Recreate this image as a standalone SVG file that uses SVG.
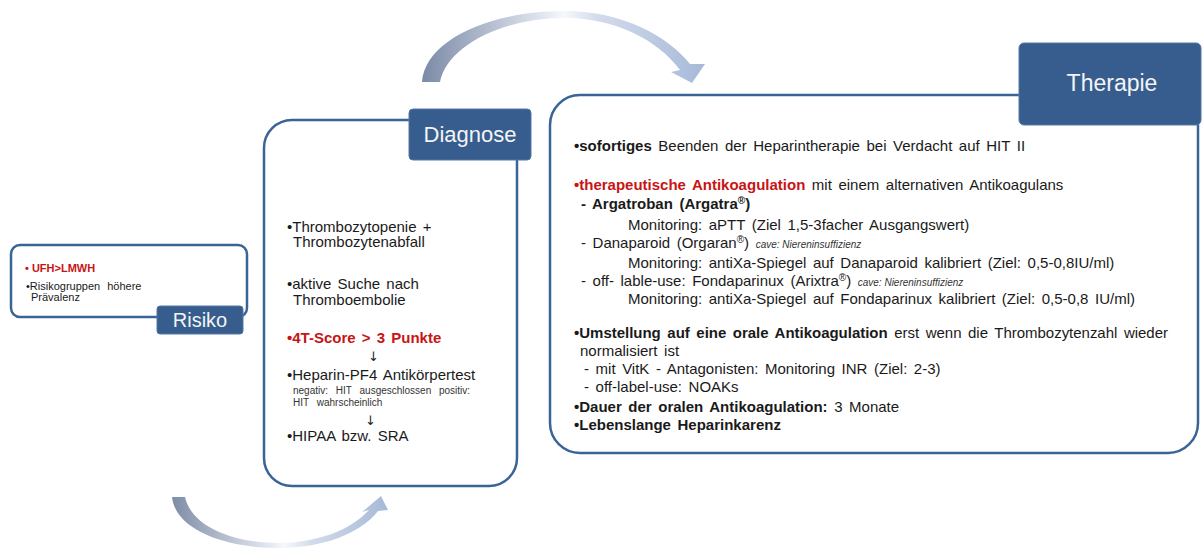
<svg xmlns="http://www.w3.org/2000/svg" width="1204" height="550" viewBox="0 0 1204 550">
<defs>
<style>
.box{fill:#fff;stroke:#3a6497;stroke-width:2.5}
.lab{fill:#365d8e;stroke:#5278a6;stroke-width:1}
.labt{font-family:"Liberation Sans",Arial,sans-serif;fill:#f4f4f4;text-anchor:middle}
.t{font-family:"Liberation Sans",Arial,sans-serif;font-size:15px;fill:#1a1a1a;word-spacing:2.4px}
.d{font-size:15px;word-spacing:2px}
.sm{font-family:"Liberation Sans",Arial,sans-serif;font-size:11px;fill:#1a1a1a}
.s{font-size:10px;fill:#333;word-spacing:5px}
.i{font-style:italic;font-size:10px;fill:#333;word-spacing:0}
.b{font-weight:bold}
.r{fill:#c81414}
.arr{font-family:"DejaVu Sans",sans-serif;font-size:13px;fill:#222}
</style>
<linearGradient id="gTop" gradientUnits="userSpaceOnUse" x1="422" y1="0" x2="705" y2="0">
<stop offset="0" stop-color="#7b8aa6"/>
<stop offset="0.42" stop-color="#dfe5ef"/>
<stop offset="0.5" stop-color="#f6f8fb"/>
<stop offset="0.62" stop-color="#d3dcec"/>
<stop offset="1" stop-color="#a6b9d8"/>
</linearGradient>
<linearGradient id="gBot" gradientUnits="userSpaceOnUse" x1="172" y1="0" x2="388" y2="0">
<stop offset="0" stop-color="#7e8ca7"/>
<stop offset="0.45" stop-color="#e3e8f0"/>
<stop offset="0.52" stop-color="#f6f8fb"/>
<stop offset="0.65" stop-color="#d2dbea"/>
<stop offset="1" stop-color="#a7b9d7"/>
</linearGradient>
</defs>
<rect width="1204" height="550" fill="#fff"/>

<g id="connectors">
<path d="M422,82 C425,40 490,11 565,11 C622,11 668,36 690,64 L705,64 L692,83 L671,72 L680,70 C658,40 615,18 565,18 C502,18 447,46 440,82 Z" fill="url(#gTop)"/>
<path d="M172,497 C176,532 230,548 278,548 C322,548 360,534 378,511 L388,510 L381,496 L362,512 L369,510 C350,531 315,543 278,543 C236,543 192,528 185,497 Z" fill="url(#gBot)"/>
</g>

<g id="risiko">
<rect class="box" x="11" y="245" width="236" height="72" rx="9"/>
<text class="sm b r" x="25" y="272">• UFH&gt;LMWH</text>
<text class="sm" x="26" y="290" word-spacing="4">•Risikogruppen höhere</text>
<text class="sm" x="31" y="301">Prävalenz</text>
<rect class="lab" x="157" y="306" width="86" height="28" rx="3"/>
<text class="labt" x="200" y="327" font-size="20">Risiko</text>
</g>

<g id="diagnose">
<rect class="box" x="264" y="120" width="253" height="366" rx="28"/>
<rect class="lab" x="409" y="109" width="122" height="51" rx="4"/>
<text class="labt" x="470" y="142" font-size="22">Diagnose</text>
<text class="t d" x="287" y="232">•Thrombozytopenie +</text>
<text class="t d" x="293" y="247">Thrombozytenabfall</text>
<text class="t d" x="287" y="289">•aktive Suche nach</text>
<text class="t d" x="293" y="305">Thromboembolie</text>
<text class="t d b r" x="287" y="343">•4T-Score &gt; 3 Punkte</text>
<text class="arr" x="368" y="361">↓</text>
<text class="t d" x="287" y="380">•Heparin-PF4 Antikörpertest</text>
<text class="t s" x="293" y="394">negativ: HIT ausgeschlossen positiv:</text>
<text class="t s" x="293" y="406">HIT wahrscheinlich</text>
<text class="arr" x="365" y="425">↓</text>
<text class="t d" x="287" y="441">•HIPAA bzw. SRA</text>
</g>

<g id="therapie">
<rect class="box" x="550" y="95" width="648" height="358" rx="30"/>
<rect class="lab" x="1019" y="43" width="182" height="82" rx="5"/>
<text class="labt" x="1112" y="91" font-size="23">Therapie</text>

<text class="t" x="574" y="151"><tspan class="b">•sofortiges</tspan> Beenden der Heparintherapie bei Verdacht auf HIT II</text>

<text class="t" x="574" y="190"><tspan class="b r">•therapeutische Antikoagulation</tspan> mit einem alternativen  Antikoagulans</text>

<text class="t b" x="581" y="209">- Argatroban (Argatra<tspan font-size="10" baseline-shift="super">®</tspan>)</text>
<text class="t" x="628" y="230">Monitoring: aPTT (Ziel 1,5-3facher Ausgangswert)</text>

<text class="t" x="581" y="248">- Danaparoid (Orgaran<tspan font-size="10" baseline-shift="super">®</tspan>) <tspan class="i">cave: Niereninsuffizienz</tspan></text>
<text class="t" x="628" y="268">Monitoring: antiXa-Spiegel auf Danaparoid kalibriert (Ziel: 0,5-0,8IU/ml)</text>

<text class="t" x="581" y="286">- off- lable-use: Fondaparinux (Arixtra<tspan font-size="10" baseline-shift="super">®</tspan>) <tspan class="i">cave: Niereninsuffizienz</tspan></text>
<text class="t" x="628" y="304">Monitoring: antiXa-Spiegel auf Fondaparinux kalibriert (Ziel: 0,5-0,8 IU/ml)</text>

<text class="t" x="574" y="338" textLength="594" lengthAdjust="spacing"><tspan class="b">•Umstellung auf eine orale Antikoagulation</tspan> erst wenn die Thrombozytenzahl wieder</text>
<text class="t" x="580" y="356">normalisiert ist</text>
<text class="t" x="584" y="374">- mit VitK - Antagonisten: Monitoring INR (Ziel: 2-3)</text>
<text class="t" x="584" y="392">- off-label-use: NOAKs</text>
<text class="t" x="574" y="412"><tspan class="b">•Dauer der oralen Antikoagulation:</tspan> 3 Monate</text>
<text class="t b" x="574" y="430">•Lebenslange Heparinkarenz</text>
</g>
</svg>
